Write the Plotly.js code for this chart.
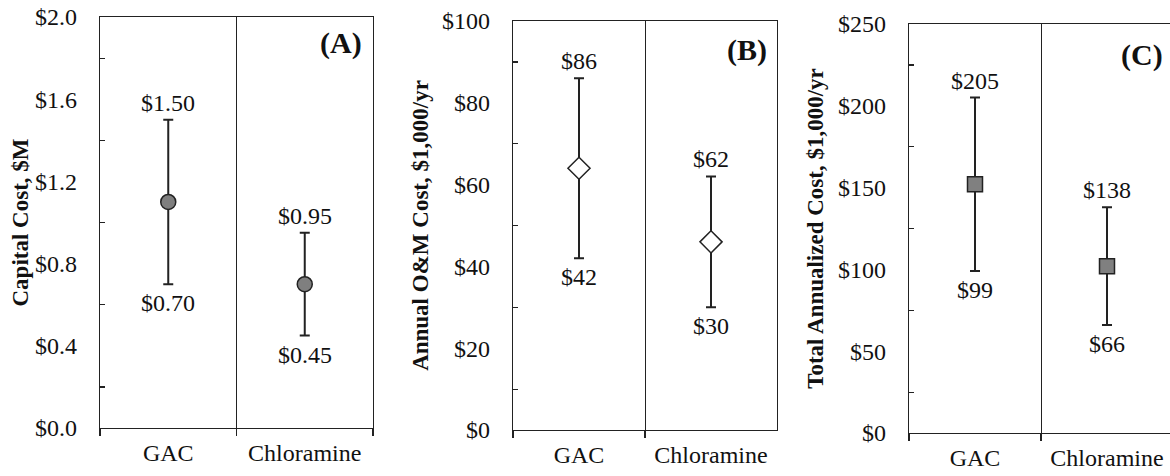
<!DOCTYPE html>
<html>
<head>
<meta charset="utf-8">
<script src="https://cdn.plot.ly/plotly-3.0.1.min.js"></script>
<style>
html, body { margin:0; padding:0; overflow:hidden; background:#fff; }
#chart { width:1176px; height:476px; }
</style>
</head>
<body>
<div id="chart"></div>
<script>
// ---- Data ----
var categories = ['GAC', 'Chloramine'];

var capitalMid  = [1.10, 0.70];
var capitalLow  = [0.70, 0.45];
var capitalHigh = [1.50, 0.95];

var omMid  = [64, 46];
var omLow  = [42, 30];
var omHigh = [86, 62];

var totalMid  = [152, 102];
var totalLow  = [99, 66];
var totalHigh = [205, 138];

var panelLabels = ['(A)', '(B)', '(C)'];
var yTitles = ['Capital Cost, $M', 'Annual O&M Cost, $1,000/yr', 'Total Annualized Cost, $1,000/yr'];

// ---- Styling ----
var FONT = "'Liberation Serif', 'Times New Roman', serif";
var DARK = '#222222';
var FS = 24;

function makeTrace(mid, low, high, xa, ya, symbol, fill) {
  return {
    type: 'scatter', mode: 'markers',
    x: categories, y: mid, xaxis: xa, yaxis: ya,
    marker: { symbol: symbol, size: symbol === 'diamond' ? 17 : 15, color: fill,
              line: { color: DARK, width: 1.5 } },
    error_y: { type: 'data', symmetric: false,
               array: high.map(function (h, i) { return h - mid[i]; }),
               arrayminus: low.map(function (l, i) { return mid[i] - l; }),
               color: DARK, thickness: 2, width: 5 },
    hoverinfo: 'x+y', showlegend: false
  };
}

var traces = [
  makeTrace(capitalMid, capitalLow, capitalHigh, 'x', 'y', 'circle', '#7f7f7f'),
  makeTrace(omMid, omLow, omHigh, 'x2', 'y2', 'diamond', '#ffffff'),
  makeTrace(totalMid, totalLow, totalHigh, 'x3', 'y3', 'square', '#808080')
];

function xAxis(domain, anchor) {
  return {
    domain: domain, anchor: anchor, type: 'category',
    categoryorder: 'array', categoryarray: categories,
    range: [-0.5, categories.length - 0.5],
    tickson: 'boundaries', ticks: 'outside', ticklen: 7, tickcolor: DARK, tickwidth: 1.2,
    showgrid: true, gridcolor: DARK, gridwidth: 1,
    showline: true, linecolor: DARK, linewidth: 1.2, mirror: true,
    tickfont: { family: FONT, size: FS, color: '#111' },
    ticklabelstandoff: 3,
    zeroline: false, fixedrange: true, automargin: false
  };
}

function yAxis(domain, anchor, range, dtick, minorDtick, fmt, title, standoff) {
  return {
    domain: domain, anchor: anchor, range: range,
    dtick: dtick, tick0: 0, tickformat: fmt, tickprefix: '$',
    ticks: '', showgrid: false, zeroline: false,
    minor: { dtick: minorDtick, tick0: 0, ticks: 'inside', ticklen: 5, tickcolor: DARK, tickwidth: 1.2, showgrid: false },
    showline: true, linecolor: DARK, linewidth: 1.2, mirror: true,
    tickfont: { family: FONT, size: FS, color: '#111' },
    ticklabelstandoff: 17,
    title: { text: title, font: { family: FONT, size: 23, color: '#111', weight: 'bold' }, standoff: standoff },
    fixedrange: true, automargin: false
  };
}

var W = 1176, H = 476;
function dx(a, b) { return [a / W, b / W]; }
function dy(top, bottom) { return [(H - bottom) / H, (H - top) / H]; }

var layout = {
  width: W, height: H,
  margin: { l: 0, r: 0, t: 0, b: 0 },
  paper_bgcolor: '#fff', plot_bgcolor: '#fff',
  showlegend: false,
  xaxis:  xAxis(dx(100, 373), 'y'),
  xaxis2: xAxis(dx(513, 777), 'y2'),
  xaxis3: xAxis(dx(909, 1173), 'y3'),
  yaxis:  yAxis(dy(17, 428), 'x',  [0, 2.0], 0.4, 0.2, '.1f', yTitles[0], 0),
  yaxis2: yAxis(dy(21, 430), 'x2', [0, 100], 20, 10, 'd', yTitles[1], 7),
  yaxis3: yAxis(dy(24, 433), 'x3', [0, 250], 50, 25, 'd', yTitles[2], 8),
  annotations: []
};

// value labels above/below the error bars
function addLabels(low, high, xa, ya, fmt) {
  categories.forEach(function (c, i) {
    layout.annotations.push({ x: c, y: high[i], xref: xa, yref: ya, text: '$' + fmt(high[i]),
      showarrow: false, yanchor: 'middle', yshift: 17, font: { family: FONT, size: FS, color: '#111' } });
    layout.annotations.push({ x: c, y: low[i], xref: xa, yref: ya, text: '$' + fmt(low[i]),
      showarrow: false, yanchor: 'middle', yshift: -19, font: { family: FONT, size: FS, color: '#111' } });
  });
}
addLabels(capitalLow, capitalHigh, 'x', 'y', function (v) { return v.toFixed(2); });
addLabels(omLow, omHigh, 'x2', 'y2', function (v) { return v.toFixed(0); });
addLabels(totalLow, totalHigh, 'x3', 'y3', function (v) { return v.toFixed(0); });

// panel letters
var letterPos = [['x domain', 'y domain', 0.883, 0.937], ['x2 domain', 'y2 domain', 0.886, 0.929], ['x3 domain', 'y3 domain', 0.883, 0.924]];
letterPos.forEach(function (p, i) {
  layout.annotations.push({ xref: p[0], yref: p[1], x: p[2], y: p[3], text: panelLabels[i],
    showarrow: false, xanchor: 'center', yanchor: 'middle',
    font: { family: FONT, size: 30, color: '#111', weight: 'bold' } });
});

Plotly.newPlot('chart', traces, layout, { displayModeBar: false, staticPlot: true });
</script>
</body>
</html>
